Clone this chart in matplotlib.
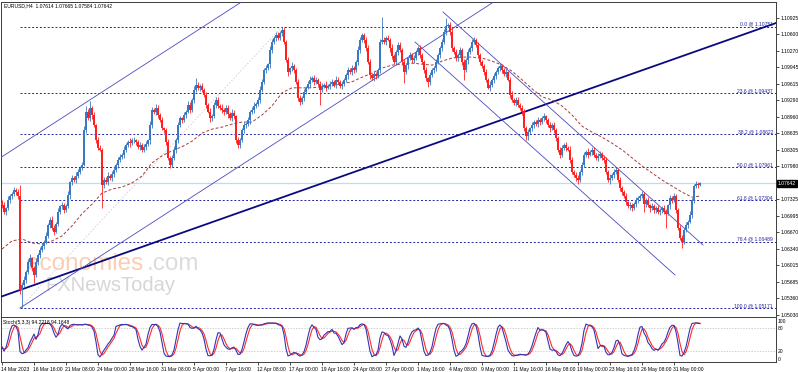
import numpy as np
import pandas as pd
import matplotlib
matplotlib.use('Agg')
import matplotlib.pyplot as plt
import matplotlib.transforms as mtrans

# EURUSD H4, 14 Mar 2023 -> 1 Jun 2023
first_open = 1.0728
closes = [
    1.0721, 1.0708, 1.0715, 1.0731, 1.0739, 1.0743, 1.0751, 1.0747, 1.0739, 1.0553,
    1.0563, 1.0573, 1.0588, 1.0608, 1.0616, 1.0596, 1.0582, 1.0608, 1.0622, 1.0632,
    1.0640, 1.0648, 1.0660, 1.0682, 1.0692, 1.0676, 1.0668, 1.0684, 1.0708, 1.0719,
    1.0721, 1.0711, 1.0719, 1.0741, 1.0767, 1.0775, 1.0771, 1.0779, 1.0787, 1.0795,
    1.0801, 1.0870, 1.0906, 1.0894, 1.0914, 1.0900, 1.0880, 1.0850, 1.0835, 1.0831,
    1.0761, 1.0771, 1.0767, 1.0779, 1.0775, 1.0783, 1.0791, 1.0801, 1.0811, 1.0817,
    1.0821, 1.0831, 1.0840, 1.0846, 1.0844, 1.0850, 1.0850, 1.0846, 1.0837, 1.0840,
    1.0831, 1.0837, 1.0842, 1.0850, 1.0880, 1.0910, 1.0906, 1.0914, 1.0900, 1.0890,
    1.0874, 1.0870, 1.0846, 1.0815, 1.0801, 1.0815, 1.0831, 1.0850, 1.0880, 1.0894,
    1.0890, 1.0900, 1.0906, 1.0920, 1.0910, 1.0930, 1.0950, 1.0960, 1.0954, 1.0958,
    1.0950, 1.0940, 1.0920, 1.0906, 1.0894, 1.0898, 1.0920, 1.0930, 1.0918, 1.0914,
    1.0910, 1.0906, 1.0914, 1.0902, 1.0894, 1.0904, 1.0898, 1.0850, 1.0840, 1.0850,
    1.0870, 1.0880, 1.0882, 1.0890, 1.0906, 1.0910, 1.0918, 1.0922, 1.0930, 1.0950,
    1.0966, 1.0989, 1.0993, 1.1001, 1.1029, 1.1045, 1.1053, 1.1059, 1.1053, 1.1063,
    1.1069, 1.1045, 1.1009, 1.0985, 1.0993, 1.0997, 1.0989, 1.0966, 1.0934, 1.0926,
    1.0934, 1.0946, 1.0954, 1.0962, 1.0970, 1.0973, 1.0966, 1.0970, 1.0962, 1.0950,
    1.0958, 1.0960, 1.0954, 1.0958, 1.0962, 1.0966, 1.0960, 1.0970, 1.0966, 1.0958,
    1.0962, 1.0970, 1.0979, 1.0989, 1.0985, 1.0993, 1.0989, 1.1005, 1.1029, 1.1049,
    1.1059, 1.1049, 1.1033, 1.1005, 1.0979, 1.0973, 1.0981, 1.0977, 1.0989, 1.1045,
    1.1049, 1.1045, 1.1053, 1.1049, 1.1033, 1.1017, 1.1005, 1.1025, 1.1039, 1.1029,
    1.1005, 1.0985, 1.0999, 1.1013, 1.1019, 1.1009, 1.1013, 1.1025, 1.1033, 1.1019,
    1.1005, 1.0989, 1.0973, 1.0966, 1.0979, 1.0989, 1.0993, 1.1005, 1.1019, 1.1033,
    1.1045, 1.1065, 1.1077, 1.1079, 1.1065, 1.1033, 1.1025, 1.1013, 1.1019, 1.1029,
    1.1005, 1.0989, 1.1009, 1.1025, 1.1033, 1.1045, 1.1049, 1.1039, 1.1019, 1.1005,
    1.0997, 1.0985, 1.0970, 1.0954, 1.0960, 1.0970, 1.0977, 1.0985, 1.0993, 1.0997,
    1.0989, 1.0981, 1.0985, 1.0970, 1.0940, 1.0930, 1.0924, 1.0930, 1.0920, 1.0914,
    1.0906, 1.0874, 1.0858, 1.0866, 1.0874, 1.0880, 1.0886, 1.0882, 1.0890, 1.0886,
    1.0894, 1.0898, 1.0890, 1.0880, 1.0874, 1.0880, 1.0870, 1.0854, 1.0831, 1.0821,
    1.0835, 1.0840, 1.0835, 1.0831, 1.0811, 1.0787, 1.0781, 1.0775, 1.0771, 1.0787,
    1.0801, 1.0821, 1.0827, 1.0821, 1.0827, 1.0831, 1.0821, 1.0815, 1.0819, 1.0823,
    1.0815, 1.0811, 1.0787, 1.0771, 1.0775, 1.0781, 1.0787, 1.0791, 1.0771, 1.0755,
    1.0747, 1.0739, 1.0727, 1.0719, 1.0721, 1.0715, 1.0723, 1.0731, 1.0735, 1.0739,
    1.0743, 1.0723, 1.0731, 1.0721, 1.0715, 1.0719, 1.0711, 1.0715, 1.0708, 1.0711,
    1.0715, 1.0708, 1.0704, 1.0721, 1.0735, 1.0731, 1.0739, 1.0711, 1.0676, 1.0656,
    1.0648, 1.0672, 1.0682, 1.0688, 1.0702, 1.0731, 1.0759, 1.0763, 1.07614, 1.07642]

# mechas superiores / inferiores en pips
up_wick = [
    4, 6, 3, 8, 5, 4, 7, 5, 6, 22,  5, 7, 4, 6, 9, 3, 5, 8, 4, 6,
    5, 3, 7, 4, 6, 8, 5, 4, 7, 3,   6, 4, 5, 9, 3, 6, 4, 7, 5, 4,
    6, 8, 12, 5, 14, 4, 6, 3, 7, 5, 4, 6, 5, 8, 3, 5, 7, 4, 6, 5,
    3, 7, 4, 5, 8, 4, 6, 3, 5, 7,   4, 5, 6, 3, 8, 6, 4, 7, 5, 4,
    6, 3, 5, 7, 4, 5, 8, 4, 6, 5,   3, 6, 4, 7, 5, 4, 8, 14, 5, 4,
    6, 4, 5, 3, 7, 4, 6, 6, 5, 4,   7, 3, 5, 6, 4, 8, 5, 3, 6, 4,
    5, 7, 4, 6, 3, 5, 8, 4, 6, 7,   5, 4, 6, 3, 7, 5, 4, 6, 5, 4,
    6, 5, 4, 7, 3, 8, 5, 4, 6, 5,   4, 6, 3, 5, 7, 4, 6, 5, 3, 6,
    5, 4, 7, 3, 6, 5, 4, 8, 5, 4,   6, 3, 5, 7, 4, 6, 5, 4, 8, 5,
    4, 3, 6, 5, 7, 4, 6, 5, 4, 6,   46, 5, 4, 6, 3, 7, 5, 4, 6, 5,
    4, 6, 5, 3, 7, 4, 6, 5, 4, 6,   5, 4, 7, 3, 6, 5, 4, 6, 5, 3,
    6, 5, 16, 4, 5, 7, 3, 6, 4, 5,  4, 6, 5, 7, 3, 5, 6, 4, 6, 5,
    4, 5, 6, 3, 7, 4, 6, 5, 4, 6,   5, 4, 6, 3, 5, 7, 4, 6, 5, 4,
    6, 5, 4, 7, 3, 6, 5, 4, 6, 5,   4, 6, 3, 5, 7, 4, 6, 5, 4, 6,
    5, 4, 6, 3, 7, 5, 4, 6, 5, 4,   6, 5, 4, 7, 3, 5, 6, 4, 6, 5,
    4, 6, 5, 3, 7, 4, 6, 5, 4, 6,   5, 4, 6, 3, 7, 5, 4, 6, 5, 4,
    6, 5, 4, 7, 3, 6, 5, 4, 6, 5,   4, 6, 5, 3, 7, 4, 6, 5, 4, 6,
    5, 4, 6, 3, 7, 5, 4, 6, 5, 2]
dn_wick = [
    5, 4, 7, 3, 6, 5, 4, 6, 5, 8,   36, 5, 6, 4, 7, 5, 15, 4, 6, 5,
    3, 6, 4, 5, 7, 4, 6, 3, 5, 4,   6, 5, 4, 3, 7, 5, 4, 6, 5, 4,
    5, 3, 6, 4, 5, 7, 4, 6, 5, 3,   46, 5, 4, 6, 3, 5, 7, 4, 6, 5,
    4, 6, 5, 3, 7, 4, 6, 5, 4, 6,   5, 4, 6, 3, 7, 5, 4, 6, 5, 4,
    3, 5, 6, 4, 6, 5, 4, 7, 5, 4,   6, 4, 5, 3, 7, 4, 6, 5, 4, 6,
    5, 4, 6, 3, 7, 5, 4, 6, 5, 4,   6, 5, 4, 7, 3, 6, 5, 6, 6, 5,
    4, 6, 5, 3, 7, 4, 6, 5, 4, 6,   5, 4, 6, 3, 7, 5, 4, 6, 5, 4,
    6, 5, 4, 7, 3, 6, 5, 4, 6, 6,   4, 6, 5, 3, 7, 4, 6, 5, 4, 30,
    5, 4, 6, 3, 7, 5, 4, 6, 5, 4,   6, 5, 4, 7, 3, 6, 5, 4, 6, 5,
    4, 6, 5, 3, 7, 4, 6, 5, 4, 6,   5, 4, 6, 3, 7, 5, 4, 6, 5, 4,
    6, 22, 4, 7, 3, 6, 5, 4, 6, 5,  4, 6, 5, 10, 7, 4, 6, 5, 4, 6,
    5, 4, 6, 3, 7, 5, 4, 6, 5, 4,   6, 20, 4, 7, 3, 6, 5, 4, 6, 5,
    4, 6, 5, 3, 7, 4, 6, 5, 4, 6,   5, 4, 6, 3, 7, 5, 4, 6, 5, 4,
    6, 5, 8, 7, 3, 6, 5, 4, 6, 5,   4, 6, 5, 3, 7, 4, 6, 5, 4, 6,
    5, 4, 6, 3, 7, 5, 4, 6, 8, 4,   6, 5, 4, 7, 3, 6, 5, 4, 6, 5,
    4, 6, 5, 3, 7, 4, 6, 5, 4, 6,   5, 4, 6, 3, 7, 5, 4, 6, 5, 4,
    4, 16, 5, 3, 7, 4, 6, 5, 4, 6,  5, 4, 28, 3, 7, 5, 4, 6, 5, 4,
    12, 5, 4, 7, 3, 6, 5, 4, 6, 3]

# media movil leida cada 5 velas (+ ultima)
ma_vals = [
    1.0634, 1.0650, 1.0654, 1.0646, 1.0644, 1.0650, 1.0660, 1.0680, 1.0704, 1.0723,
    1.0745, 1.0753, 1.0757, 1.0765, 1.0779, 1.0805, 1.0819, 1.0829, 1.0837, 1.0848,
    1.0864, 1.0872, 1.0876, 1.0882, 1.0886, 1.0886, 1.0900, 1.0918, 1.0944, 1.0954,
    1.0954, 1.0954, 1.0956, 1.0958, 1.0962, 1.0966, 1.0975, 1.0983, 1.0993, 1.0999,
    1.1001, 1.1003, 1.1001, 1.0999, 1.1007, 1.1013, 1.1015, 1.1015, 1.1013, 1.1007,
    1.0999, 1.0987, 1.0970, 1.0952, 1.0936, 1.0930, 1.0918, 1.0900, 1.0878, 1.0866,
    1.0856, 1.0844, 1.0831, 1.0815, 1.0799, 1.0785, 1.0771, 1.0759, 1.0747, 1.0737,
    1.0739]
ma_bars = list(range(0, 346, 5)) + [349]

fib_pct = ['0.0', '23.6', '38.2', '50.0', '61.8', '76.4', '100.0']
fib_prices = [1.10751, 1.09437, 1.08622, 1.07961, 1.07304, 1.06489, 1.05171]
fib_start_bar = 9
fib_end_bar = 140

# lineas dibujadas: (vela, precio) de cada ancla
trend_thick = [(-1, 1.05387), (387, 1.10826)]
chan_up_low = [(9, 1.05169), (200, 1.10068)]
chan_up_high = [(-1, 1.08147), (99, 1.10712)]
chan_dn_high = [(220.5, 1.11045), (350.5, 1.06420)]
chan_dn_low = [(206.5, 1.10449), (336.5, 1.05825)]

price_ticks = [1.10925, 1.10600, 1.10270, 1.09945, 1.09615, 1.09290, 1.08960, 1.08635,
               1.08305, 1.07980, 1.07325, 1.06995, 1.06670, 1.06340, 1.06015, 1.05685,
               1.05360, 1.05030]
date_labels = ['14 Mar 2023', '16 Mar 16:00', '21 Mar 08:00', '24 Mar 00:00', '28 Mar 16:00',
               '31 Mar 08:00', '5 Apr 00:00', '7 Apr 16:00', '12 Apr 08:00', '17 Apr 00:00',
               '19 Apr 16:00', '24 Apr 08:00', '27 Apr 00:00', '1 May 16:00', '4 May 08:00',
               '9 May 00:00', '11 May 16:00', '16 May 08:00', '19 May 00:00', '23 May 16:00',
               '26 May 08:00', '31 May 00:00']
bars_per_label = 16
last_price = 1.07642

assert len(closes) == 350, len(closes)
assert len(up_wick) == 350, len(up_wick)
assert len(dn_wick) == 350, len(dn_wick)
assert len(ma_vals) == len(ma_bars)

# OHLC
c = np.array(closes)
o = np.r_[first_open, c[:-1]]
h = np.maximum(o, c) + np.array(up_wick) * 0.0001
l = np.minimum(o, c) - np.array(dn_wick) * 0.0001
x = np.arange(len(c))

plt.rcParams['font.family'] = ['Liberation Sans', 'DejaVu Sans']
W, H = 798, 372
fig = plt.figure(figsize=(W / 100, H / 100), dpi=100)
ax = fig.add_axes([1 / W, 1 - 317 / H, 775 / W, 315 / H])
axs = fig.add_axes([1 / W, 1 - 362 / H, 775 / W, 45 / H])

fs = 3.6
xmin, xmax = -0.5, 387
ax.set_xlim(xmin, xmax)
ax.set_ylim(1.04991, 1.11243)

# marca de agua
ax.text(26 / W, 1 - 270 / H, 'economies', transform=fig.transFigure, fontsize=17.5,
        color='#fbcdb2', zorder=0)
ax.text(147 / W, 1 - 270 / H, '.com', transform=fig.transFigure, fontsize=17.5,
        color='#dcdcdc', zorder=0)
ax.text(45 / W, 1 - 291 / H, 'FXNewsToday', transform=fig.transFigure, fontsize=14.5,
        color='#d6d6d6', zorder=0)

# precio actual
ax.axhline(last_price, color='#b4e2ea', lw=0.9, zorder=1)

# fibonacci
for pct, pr in zip(fib_pct, fib_prices):
    ax.plot([fib_start_bar, xmax], [pr, pr], color='#2323a0', lw=0.7,
            linestyle=(0, (2, 2)), zorder=2)
    ax.text(385.5, pr, pct + ' @ ' + f'{pr:.5f}', ha='right', va='bottom',
            fontsize=fs, color='#2323a0', zorder=5)
ax.plot([fib_start_bar, fib_end_bar], [fib_prices[-1], fib_prices[0]], color='#d0d0d0',
        lw=0.6, linestyle=(0, (2, 2)), zorder=2)


def draw_line(anchors, color, lw, ray=False, left=False):
    (b1, p1), (b2, p2) = anchors
    s = (p2 - p1) / (b2 - b1)
    xa = xmin if left else b1
    xb = xmax if ray else b2
    ax.plot([xa, xb], [p1 + s * (xa - b1), p1 + s * (xb - b1)], color=color, lw=lw, zorder=3)


draw_line(trend_thick, '#0a0a80', 1.3, ray=True, left=True)
draw_line(chan_up_low, '#4a4ac0', 0.6, ray=True)
draw_line(chan_up_high, '#4a4ac0', 0.6, ray=True, left=True)
draw_line(chan_dn_high, '#4a4ac0', 0.6)
draw_line(chan_dn_low, '#4a4ac0', 0.6)

# media movil
ax.plot(ma_bars, ma_vals, color='#a83c3c', lw=0.7, linestyle=(0, (3, 2)), zorder=3)

# velas
up = c >= o
colors = np.where(up, '#3a78c2', '#ff1f1f')
ax.vlines(x, l, h, colors=colors, lw=0.6, zorder=4)
body = np.maximum(np.abs(c - o), 0.00004)
ax.bar(x, body, bottom=np.minimum(o, c), width=0.9, color=colors, lw=0, zorder=4)

# ejes
ax.yaxis.tick_right()
ax.set_yticks(price_ticks)
ax.set_yticklabels([f'{p:.5f}' for p in price_ticks])
ax.tick_params(axis='y', direction='out', length=2, width=0.5, pad=1.5, labelsize=fs)
ax.set_xticks([])
for s in ax.spines.values():
    s.set_color('#3c3c3c')
    s.set_linewidth(0.7)
ax.text(1.002, last_price, f'{last_price:.5f}', transform=ax.get_yaxis_transform(),
        va='center', ha='left', fontsize=fs, color='white',
        bbox=dict(facecolor='black', edgecolor='black', pad=0.6), zorder=6)

fig.text(4 / W, 1 - 6 / H, 'EURUSD,H4  1.07614 1.07665 1.07584 1.07642', fontsize=fs,
         va='center', ha='left', color='black')

# estocastico (5,3,3)
hs, ls, cs = pd.Series(h), pd.Series(l), pd.Series(c)
ll = ls.rolling(5, min_periods=1).min()
hh = hs.rolling(5, min_periods=1).max()
k = 100 * (cs - ll).rolling(3, min_periods=1).sum() / (hh - ll).rolling(3, min_periods=1).sum()
d = k.rolling(3, min_periods=1).mean()

axs.set_xlim(xmin, xmax)
axs.set_ylim(-8, 110)
axs.axhline(80, color='#bdbdbd', lw=0.5, linestyle=(0, (2, 2)))
axs.axhline(20, color='#bdbdbd', lw=0.5, linestyle=(0, (2, 2)))
axs.plot(x, d, color='#ff2b2b', lw=0.8)
axs.plot(x, k, color='#3434b4', lw=0.8)
axs.yaxis.tick_right()
axs.set_yticks([100, 80, 20, 0])
axs.tick_params(axis='y', direction='out', length=0, pad=1.5, labelsize=fs)
axs.text(0.003, 0.93, 'Stoch(5,3,3) 94.2218 94.1648', transform=axs.transAxes,
         fontsize=fs, va='top', ha='left')
label_bars = [i * bars_per_label for i in range(len(date_labels))]
axs.set_xticks(label_bars)
axs.set_xticklabels([])
axs.tick_params(axis='x', direction='out', length=2, width=0.5)
tr = mtrans.blended_transform_factory(axs.transData, axs.transAxes)
for b, lab in zip(label_bars, date_labels):
    axs.text(b - 0.5, -0.12, lab, transform=tr, fontsize=fs, ha='left', va='top')
for s in axs.spines.values():
    s.set_color('#3c3c3c')
    s.set_linewidth(0.7)

fig.savefig('out.png', dpi=100)
